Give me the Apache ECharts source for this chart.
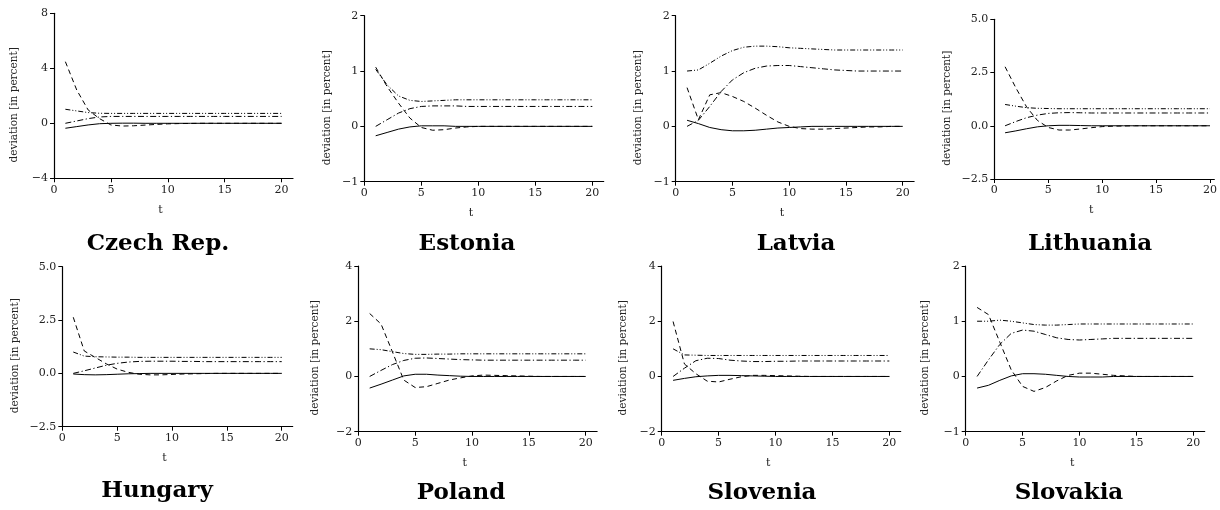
<!DOCTYPE html>
<html>
<head>
<meta charset="utf-8">
<script src="https://cdn.jsdelivr.net/npm/echarts@6/dist/echarts.min.js"></script>
<style>html,body{margin:0;padding:0;background:#fff}#c{width:1220px;height:510px}</style>
</head>
<body>
<div id="c"></div>
<script>
// ---------- DATA ----------
const tValues = [1,2,3,4,5,6,7,8,9,10,11,12,13,14,15,16,17,18,19,20];
const countries = ['Czech Rep.','Estonia','Latvia','Lithuania','Hungary','Poland','Slovenia','Slovakia'];
const xTicks = [0,5,10,15,20];
const yMins = [-4,-1,-1,-2.5,-2.5,-2,-2,-1];
const yMaxs = [8,2,2,5,5,4,4,2];
const yIntervals = [4,1,1,2.5,2.5,2,2,1];
const yDecimals = [0,0,0,1,1,0,0,0];

const czSolid = [-0.36,-0.24,-0.12,-0.03,0.0,0.01,0.01,0.0,0,0,0,0,0,0,0,0,0,0,0,0];
const czDash  = [4.48,2.42,0.97,0.34,-0.12,-0.2,-0.18,-0.13,-0.08,-0.04,-0.02,-0.01,0,0,0,0,0,0,0,0];
const czDot1  = [0,0.17,0.34,0.46,0.5,0.5,0.5,0.5,0.5,0.5,0.5,0.5,0.5,0.5,0.5,0.5,0.5,0.5,0.5,0.5];
const czDot2  = [1.02,0.9,0.78,0.73,0.72,0.72,0.72,0.72,0.72,0.72,0.72,0.72,0.72,0.72,0.72,0.72,0.72,0.72,0.72,0.72];

const eeSolid = [-0.17,-0.11,-0.05,-0.01,0.01,0.01,0.01,0,0,0,0,0,0,0,0,0,0,0,0,0];
const eeDash  = [1.07,0.72,0.42,0.15,-0.02,-0.07,-0.06,-0.03,-0.01,0,0,0,0,0,0,0,0,0,0,0];
const eeDot1  = [0,0.12,0.24,0.32,0.36,0.37,0.37,0.37,0.36,0.36,0.36,0.36,0.36,0.36,0.36,0.36,0.36,0.36,0.36,0.36];
const eeDot2  = [1.03,0.75,0.55,0.47,0.45,0.46,0.47,0.48,0.48,0.48,0.48,0.48,0.48,0.48,0.48,0.48,0.48,0.48,0.48,0.48];

const lvSolid = [0.11,0.05,-0.02,-0.06,-0.08,-0.08,-0.07,-0.05,-0.03,-0.02,-0.01,0,0,0,0,0,0,0,0,0];
const lvDash  = [0.70,0.12,0.57,0.61,0.54,0.45,0.33,0.2,0.08,0.0,-0.04,-0.05,-0.05,-0.04,-0.03,-0.02,-0.01,-0.01,0,0];
const lvDot1  = [0,0.11,0.36,0.63,0.84,0.97,1.05,1.09,1.10,1.10,1.08,1.06,1.04,1.02,1.01,1.0,1.0,1.0,1.0,1.0];
const lvDot2  = [1.0,1.02,1.14,1.27,1.37,1.43,1.45,1.45,1.44,1.42,1.41,1.40,1.39,1.38,1.38,1.38,1.38,1.38,1.38,1.38];

const ltSolid = [-0.33,-0.24,-0.14,-0.05,0.0,0.02,0.02,0.01,0,0,0,0,0,0,0,0,0,0,0,0];
const ltDash  = [2.77,1.78,0.88,0.25,-0.08,-0.2,-0.2,-0.15,-0.09,-0.04,-0.02,-0.01,0,0,0,0,0,0,0,0];
const ltDot1  = [0,0.2,0.38,0.5,0.58,0.61,0.62,0.61,0.6,0.6,0.6,0.6,0.6,0.6,0.6,0.6,0.6,0.6,0.6,0.6];
const ltDot2  = [1.0,0.92,0.85,0.82,0.81,0.8,0.8,0.8,0.8,0.8,0.8,0.8,0.8,0.8,0.8,0.8,0.8,0.8,0.8,0.8];

const huSolid = [-0.03,-0.06,-0.07,-0.06,-0.04,-0.02,-0.01,0,0,0,0,0,0,0,0,0,0,0,0,0];
const huDash  = [2.63,1.05,0.75,0.45,0.2,0.05,-0.04,-0.07,-0.07,-0.05,-0.03,-0.02,-0.01,0,0,0,0,0,0,0];
const huDot1  = [0,0.12,0.25,0.38,0.47,0.53,0.56,0.57,0.57,0.57,0.56,0.56,0.55,0.55,0.55,0.55,0.55,0.55,0.55,0.55];
const huDot2  = [1.0,0.81,0.78,0.77,0.76,0.76,0.75,0.75,0.75,0.75,0.75,0.75,0.75,0.75,0.75,0.75,0.75,0.75,0.75,0.75];

const plSolid = [-0.42,-0.28,-0.13,0.02,0.08,0.08,0.05,0.03,0.01,0,0,0,0,0,0,0,0,0,0,0];
const plDash  = [2.28,1.9,0.89,-0.13,-0.4,-0.37,-0.25,-0.13,-0.05,0.02,0.05,0.04,0.03,0.02,0.01,0,0,0,0,0];
const plDot1  = [0,0.22,0.43,0.58,0.66,0.67,0.65,0.63,0.61,0.6,0.59,0.59,0.59,0.59,0.59,0.59,0.59,0.59,0.59,0.59];
const plDot2  = [1.0,0.97,0.9,0.83,0.8,0.8,0.81,0.81,0.82,0.82,0.82,0.82,0.82,0.82,0.82,0.82,0.82,0.82,0.82,0.82];

const siSolid = [-0.14,-0.07,-0.01,0.02,0.04,0.04,0.03,0.02,0.01,0,0,0,0,0,0,0,0,0,0,0];
const siDash  = [1.99,0.45,0.1,-0.17,-0.2,-0.1,-0.01,0.04,0.04,0.03,0.02,0.01,0,0,0,0,0,0,0,0];
const siDot1  = [0,0.3,0.57,0.66,0.65,0.59,0.56,0.54,0.54,0.55,0.55,0.56,0.56,0.56,0.56,0.56,0.56,0.56,0.56,0.56];
const siDot2  = [1.0,0.78,0.77,0.76,0.76,0.76,0.76,0.76,0.76,0.76,0.76,0.76,0.76,0.76,0.76,0.76,0.76,0.76,0.76,0.76];

const skSolid = [-0.21,-0.16,-0.07,0.01,0.05,0.05,0.04,0.02,0.0,-0.01,-0.01,-0.01,0,0,0,0,0,0,0,0];
const skDash  = [1.25,1.12,0.62,0.12,-0.18,-0.27,-0.2,-0.08,0.02,0.06,0.06,0.04,0.02,0.01,0,0,0,0,0,0];
const skDot1  = [0,0.3,0.58,0.78,0.84,0.82,0.76,0.7,0.67,0.66,0.67,0.68,0.69,0.69,0.69,0.69,0.69,0.69,0.69,0.69];
const skDot2  = [1.0,1.0,1.02,1.0,0.97,0.94,0.93,0.93,0.94,0.95,0.95,0.95,0.95,0.95,0.95,0.95,0.95,0.95,0.95,0.95];

const seriesByCountry = [
  [czSolid,czDash,czDot1,czDot2],
  [eeSolid,eeDash,eeDot1,eeDot2],
  [lvSolid,lvDash,lvDot1,lvDot2],
  [ltSolid,ltDash,ltDot1,ltDot2],
  [huSolid,huDash,huDot1,huDot2],
  [plSolid,plDash,plDot1,plDot2],
  [siSolid,siDash,siDot1,siDot2],
  [skSolid,skDash,skDot1,skDot2]
];

// ---------- LAYOUT ----------
const layout = [
  {left:54,    top:13.3,  width:239,   height:165,   xMax:21,   yGap:34, tx:153,  ty:242},
  {left:364.3, top:15.7,  width:239.4, height:166,   xMax:21,   yGap:32, tx:462,  ty:242},
  {left:675.7, top:15.7,  width:238.4, height:166,   xMax:21,   yGap:32, tx:791,  ty:242},
  {left:994.3, top:19.3,  width:223.4, height:159.7, xMax:20.4, yGap:42, tx:1085, ty:242},
  {left:62.3,  top:266.7, width:230.4, height:160,   xMax:21,   yGap:42, tx:152,  ty:489},
  {left:358.3, top:266,   width:238.8, height:165.7, xMax:21,   yGap:38, tx:456,  ty:491},
  {left:661.7, top:266,   width:239,   height:165.7, xMax:21,   yGap:33, tx:757,  ty:491},
  {left:965.7, top:266,   width:239,   height:165.7, xMax:21,   yGap:35, tx:1064, ty:491}
];
const dashStyles = ['solid', [5,3.5], [6,2.5,1.2,2.5], [5,2,1,2,1,2]];
const serif = 'DejaVu Serif';

const grid = [], xAxis = [], yAxis = [], series = [], title = [];
countries.forEach((name, i) => {
  const L = layout[i];
  grid.push({left:L.left, top:L.top, width:L.width, height:L.height, containLabel:false});
  xAxis.push({
    gridIndex:i, type:'value', min:0, max:L.xMax, interval:5,
    name:'t', nameLocation:'middle', nameGap:26,
    nameTextStyle:{fontFamily:serif, fontSize:11, color:'#222', padding:[0,26,0,0]},
    axisLine:{onZero:false, lineStyle:{color:'#000', width:1.2}},
    axisTick:{show:true, length:4, customValues:xTicks, lineStyle:{color:'#000'}},
    axisLabel:{customValues:xTicks, fontFamily:serif, fontSize:11, color:'#222', margin:6},
    splitLine:{show:false}
  });
  yAxis.push({
    gridIndex:i, type:'value', min:yMins[i], max:yMaxs[i], interval:yIntervals[i],
    name:'deviation [in percent]', nameLocation:'middle', nameGap:L.yGap,
    nameTextStyle:{fontFamily:serif, fontSize:10.5, color:'#222', padding:[0,18,0,0]},
    axisLine:{onZero:false, lineStyle:{color:'#000', width:1.2}},
    axisTick:{show:true, length:4, lineStyle:{color:'#000'}},
    axisLabel:{fontFamily:serif, fontSize:11, color:'#222', margin:6,
      formatter: v => v.toFixed(yDecimals[i]).replace('-', '\u2212')},
    splitLine:{show:false}
  });
  seriesByCountry[i].forEach((vals, k) => {
    series.push({
      type:'line', xAxisIndex:i, yAxisIndex:i, symbol:'none', silent:true,
      data: tValues.map((t, j) => [t, vals[j]]),
      lineStyle:{color:'#000', width:1, type:dashStyles[k]},
      animation:false, z: 3
    });
  });
  title.push({
    text:name, left:L.tx, top:L.ty - 14, textAlign:'center',
    textStyle:{fontFamily:serif, fontWeight:'bold', fontSize:23, color:'#000'}
  });
});

const chart = echarts.init(document.getElementById('c'));
chart.setOption({backgroundColor:'#fff', animation:false, grid, xAxis, yAxis, series, title});
</script>
</body>
</html>
